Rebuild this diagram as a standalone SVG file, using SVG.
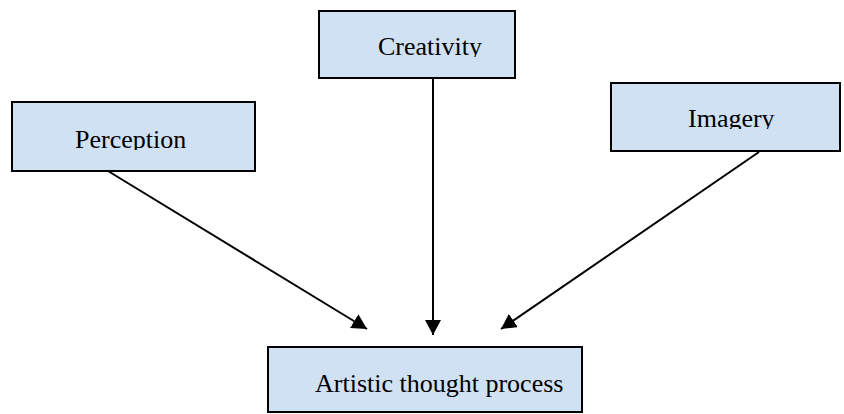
<svg xmlns="http://www.w3.org/2000/svg" width="844" height="414" viewBox="0 0 844 414">
<style>
.box{fill:#cfe1f3;stroke:#000;stroke-width:2}
.lbl{font-family:"Liberation Serif","Times New Roman",serif;font-size:26px;fill:#000}
.conn{stroke:#000;stroke-width:2;fill:none}
</style>
<defs>
<marker id="ah" markerUnits="userSpaceOnUse" markerWidth="16" markerHeight="16" refX="15" refY="8" orient="auto">
<path d="M0,0 L15,8 L0,16 Z" fill="#000"/>
</marker>
<clipPath id="cCre"><rect x="319" y="11" width="196" height="46"/></clipPath>
<clipPath id="cPer"><rect x="12" y="102" width="243" height="48"/></clipPath>
<clipPath id="cImg"><rect x="611" y="83" width="229" height="46"/></clipPath>
</defs>
<g id="creativity">
<rect class="box" x="319" y="11" width="196" height="67"/>
<text class="lbl" x="378" y="55" clip-path="url(#cCre)">Creativity</text>
</g>
<g id="perception">
<rect class="box" x="12" y="102" width="243" height="69"/>
<text class="lbl" x="75" y="148" clip-path="url(#cPer)">Perception</text>
</g>
<g id="imagery">
<rect class="box" x="611" y="83" width="229" height="68"/>
<text class="lbl" x="688" y="127" clip-path="url(#cImg)">Imagery</text>
</g>
<g id="artistic">
<rect class="box" x="268" y="347" width="314" height="65"/>
<text class="lbl" x="315" y="392">Artistic thought process</text>
</g>
<g id="connectors">
<line class="conn" x1="108" y1="171" x2="367" y2="329" marker-end="url(#ah)"/>
<line class="conn" x1="433" y1="79" x2="433" y2="335" marker-end="url(#ah)"/>
<line class="conn" x1="759" y1="152" x2="501" y2="329" marker-end="url(#ah)"/>
</g>
</svg>
